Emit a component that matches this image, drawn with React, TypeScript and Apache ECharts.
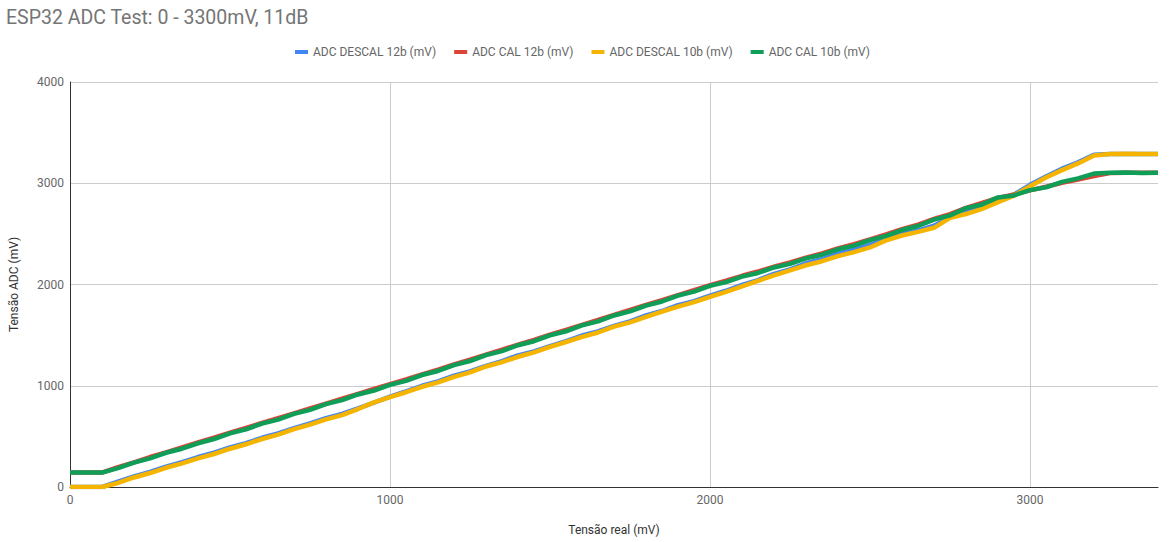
import React, { useEffect, useRef } from "react";
import * as echarts from "echarts";

const TITLE = "ESP32 ADC Test: 0 - 3300mV, 11dB";
const SERIES_NAMES = [
  "ADC DESCAL 12b (mV)",
  "ADC CAL 12b (mV)",
  "ADC DESCAL 10b (mV)",
  "ADC CAL 10b (mV)",
];
const COLORS = ["#4285F4", "#DB4437", "#F4B400", "#0F9D58"];

// Tensão real (mV)
const xs = [
  0, 50, 100, 150, 200, 250, 300, 350, 400, 450, 500, 550, 600, 650, 700, 750,
  800, 850, 900, 950, 1000, 1050, 1100, 1150, 1200, 1250, 1300, 1350, 1400,
  1450, 1500, 1550, 1600, 1650, 1700, 1750, 1800, 1850, 1900, 1950, 2000, 2050,
  2100, 2150, 2200, 2250, 2300, 2350, 2400, 2450, 2500, 2550, 2600, 2650, 2700,
  2750, 2800, 2850, 2900, 2950, 3000, 3050, 3100, 3150, 3200, 3250, 3300, 3350,
  3400,
];

const descal12 = [
  0, 0, 0, 52, 104, 150, 202, 246, 296, 340, 390, 434, 486, 530, 582, 628, 680,
  722, 776, 834, 892, 944, 1000, 1044, 1100, 1142, 1196, 1244, 1300, 1340, 1392,
  1440, 1496, 1536, 1592, 1636, 1694, 1738, 1796, 1836, 1890, 1938, 1996, 2044,
  2104, 2150, 2210, 2250, 2304, 2344, 2392, 2448, 2500, 2534, 2580, 2664, 2716,
  2762, 2832, 2888, 2984, 3066, 3144, 3206, 3282, 3290, 3290, 3290, 3290,
];

const cal12 = [
  142, 142, 142, 196, 244, 296, 342, 392, 440, 488, 536, 584, 632, 680, 728,
  776, 824, 872, 920, 968, 1016, 1062, 1112, 1160, 1210, 1258, 1308, 1356, 1406,
  1454, 1504, 1552, 1602, 1650, 1700, 1748, 1798, 1846, 1896, 1944, 1994, 2038,
  2086, 2128, 2176, 2218, 2266, 2308, 2356, 2398, 2446, 2494, 2546, 2592, 2648,
  2696, 2756, 2806, 2856, 2890, 2930, 2966, 3004, 3036, 3072, 3100, 3104, 3104,
  3104,
];

const descal10 = [
  0, 0, 0, 40, 94, 138, 190, 234, 282, 326, 378, 422, 474, 518, 572, 616, 668,
  710, 770, 836, 888, 936, 990, 1034, 1088, 1132, 1190, 1234, 1286, 1330, 1384,
  1432, 1482, 1526, 1584, 1626, 1680, 1732, 1782, 1826, 1878, 1928, 1982, 2036,
  2090, 2140, 2190, 2230, 2280, 2320, 2366, 2436, 2484, 2520, 2560, 2658, 2696,
  2746, 2814, 2878, 2970, 3056, 3130, 3196, 3274, 3290, 3292, 3288, 3290,
];

const cal10 = [
  142, 142, 142, 186, 240, 282, 338, 378, 432, 474, 530, 570, 626, 666, 722,
  762, 818, 858, 914, 953, 1008, 1048, 1106, 1146, 1204, 1244, 1302, 1342, 1400,
  1440, 1498, 1538, 1596, 1636, 1694, 1734, 1792, 1832, 1890, 1930, 1986, 2024,
  2078, 2114, 2168, 2204, 2258, 2294, 2348, 2384, 2438, 2480, 2538, 2578, 2640,
  2682, 2754, 2790, 2860, 2880, 2932, 2960, 3014, 3048, 3096, 3104, 3106, 3102,
  3104,
];

const SERIES_VALUES = [descal12, cal12, descal10, cal10];

const FONT = "Roboto, 'Noto Sans', sans-serif";
const LEGEND_ICON = "path://M0,0 M3,0 L16,0 L16,4 L3,4 Z";

export default function App() {
  const ref = useRef<HTMLDivElement>(null);

  useEffect(() => {
    document.body.style.margin = "0";
    if (!ref.current) return;
    const chart = echarts.init(ref.current, undefined, { renderer: "svg" });
    chart.setOption({
      animation: false,
      backgroundColor: "#ffffff",
      textStyle: { fontFamily: FONT },
      title: {
        text: TITLE,
        left: 1,
        top: 2,
        textStyle: {
          fontFamily: FONT,
          fontSize: 19.5,
          fontWeight: "normal",
          color: "#757575",
        },
      },
      legend: {
        left: 287,
        top: 41,
        itemWidth: 16,
        itemHeight: 4,
        itemGap: 15,
        textStyle: { fontFamily: FONT, fontSize: 12, color: "#666666" },
        data: SERIES_NAMES.map((n) => ({ name: n, icon: LEGEND_ICON })),
      },
      grid: { left: 68, right: 13, top: 82, bottom: 55 },
      xAxis: {
        type: "value",
        min: 0,
        max: 3400,
        interval: 1000,
        name: "Tensão real (mV)",
        nameLocation: "middle",
        nameGap: 37,
        nameTextStyle: { fontFamily: FONT, fontSize: 12, color: "#333" },
        axisLine: { show: true, lineStyle: { color: "#333", width: 1 } },
        axisTick: { show: false },
        axisLabel: {
          fontFamily: FONT,
          fontSize: 12,
          color: "#666",
          margin: 7,
          showMaxLabel: false,
          formatter: (v: number) => String(v),
        },
        splitLine: {
          show: true,
          showMinLine: false,
          showMaxLine: false,
          lineStyle: { color: "#cccccc", width: 1 },
        },
      },
      yAxis: {
        type: "value",
        min: 0,
        max: 4000,
        interval: 1000,
        name: "Tensão ADC (mV)",
        nameLocation: "middle",
        nameGap: 50,
        nameTextStyle: { fontFamily: FONT, fontSize: 12, color: "#333" },
        axisLine: { show: true, lineStyle: { color: "#333", width: 1 } },
        axisTick: { show: false },
        axisLabel: {
          fontFamily: FONT,
          fontSize: 12,
          color: "#666",
          margin: 6,
          formatter: (v: number) => String(v),
        },
        splitLine: {
          show: true,
          showMinLine: false,
          lineStyle: { color: "#cccccc", width: 1 },
        },
      },
      series: SERIES_NAMES.map((name, si) => ({
        name,
        type: "line",
        showSymbol: false,
        symbol: "none",
        color: COLORS[si],
        lineStyle: { width: 4.5, color: COLORS[si] },
        data: xs.map((x, i) => [x, SERIES_VALUES[si][i]]),
        z: 2 + si,
      })),
    });
    return () => chart.dispose();
  }, []);

  return <div ref={ref} style={{ width: 1171, height: 542 }} />;
}
